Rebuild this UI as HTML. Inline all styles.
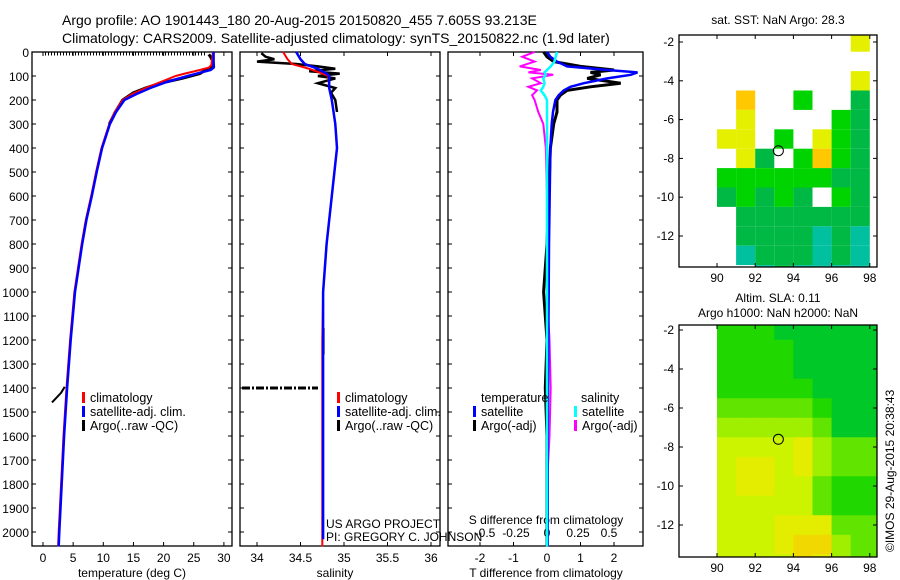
<!DOCTYPE html>
<html><head><meta charset="utf-8"><style>
body{margin:0;background:#fff}
svg{display:block;font-family:"Liberation Sans",sans-serif}
text{font-size:12px;fill:#000}
</style></head><body>
<svg id="c" width="900" height="580" viewBox="0 0 900 580"></svg>
<script>
// ---- data ----
const depthT=[0,20,40,55,65,75,90,100,125,150,175,200,250,300,400,500,600,700,800,900,1000,1200,1400,1600,1800,2000,2060];
const tClim=[28.2,28.1,28.0,27.9,27.5,26.0,23.5,22.0,19.5,17.0,14.8,13.2,11.9,11.0,9.7,8.8,8.0,7.1,6.4,5.8,5.2,4.5,3.9,3.4,3.0,2.6,2.5];
const tSat=[28.3,28.3,28.3,28.3,28.3,27.8,25.5,24.0,20.5,17.8,15.5,13.5,12.1,11.1,9.8,8.9,8.1,7.2,6.5,5.9,5.3,4.6,4.0,3.5,3.1,2.7,2.6];
const depthArgo=[10,20,40,60,75,90,110,130,150,170,200,250,300];
const tArgo=[27.5,27.8,28.2,28.3,27.0,26.0,23.0,19.5,17.0,15.0,13.2,12.0,11.0];
const depthS=[0,30,50,70,90,100,150,200,300,400,500,600,800,1000,1200,1400,1600,1800,2000,2060];
const sClim=[34.30,34.35,34.40,34.6,34.75,34.82,34.83,34.86,34.90,34.92,34.89,34.86,34.80,34.76,34.75,34.75,34.75,34.75,34.75,34.75];
const sSat=[34.45,34.5,34.55,34.7,34.8,34.83,34.83,34.86,34.90,34.92,34.89,34.86,34.80,34.76,34.76,34.76,34.76,34.76,34.76,34.76];
const depthSA=[5,20,30,40,50,60,70,80,90,100,110,120,130,150,170,200,250];
const sArgo=[34.05,34.1,34.2,34.0,34.45,34.7,34.9,34.6,34.95,34.7,34.9,34.8,34.7,34.9,34.85,34.9,34.92];
const depthD=[0,20,40,60,75,85,95,110,130,145,160,180,200,250,300,400,600,800,1000,1200,1400,1600,1800,2000,2060];
const dTsat=[0.0,0.1,0.3,0.6,1.8,2.7,2.5,1.8,1.1,0.7,0.5,0.35,0.25,0.18,0.14,0.1,0.08,0.06,0.05,0.04,0.03,0.02,0.02,0.02,0.02];
const dTargo=[-0.1,0.0,0.2,1.0,2.0,1.3,1.6,1.2,2.2,1.3,0.6,0.4,0.3,0.3,0.2,0.1,0.05,0.0,-0.1,0.0,-0.05,0.0,0.0,0.0,0.0];
const dSsat=[0.08,0.07,0.06,0.03,0.0,-0.02,-0.01,-0.03,-0.02,-0.03,-0.05,-0.02,0.0,0.0,0.0,0.0,0.0,0.0,0.0,0.0,0.0,0.0,0.0,0.0,0.0];
const dSargo=[-0.1,-0.2,-0.1,-0.22,-0.05,-0.15,0.05,-0.12,-0.05,-0.15,-0.08,-0.12,-0.1,-0.07,-0.03,-0.01,0.0,0.0,0.0,0.02,0.03,0.02,0.0,0.0,0.0];
const depthTicks=[0,100,200,300,400,500,600,700,800,900,1000,1100,1200,1300,1400,1500,1600,1700,1800,1900,2000];
const tTicks=[0,5,10,15,20,25,30];
const sTicks=["34","34.5","35","35.5","36"];
const dTTicks=[-2,-1,0,1,2];
const dSTicks=["-0.5","-0.25","0","0.25","0.5"];
const lonTicks=[90,92,94,96,98];
const latTicks=[-2,-4,-6,-8,-10,-12];
const sstRows=[".........y","..........",".........y","...o..G..g","...y....Gg","..yy.G.yGg","...yg.GoGg","..GGGGGGgg","..gGgGg.Gg","...ggggggg","...ggggcgc","...cgggcgc","....cgcccc"];
const slaRows=["11100000","11110000","11110000","11111000","22222100","33333200","44445322","45545322","45544211","44444211","44455522","44456632","44446532"];

const S=document.getElementById('c');const NS='http://www.w3.org/2000/svg';
function el(t,a,p){const e=document.createElementNS(NS,t);for(const k in a)e.setAttribute(k,a[k]);(p||S).appendChild(e);return e;}
function txt(x,y,s,anchor,name,extra){const e=el('text',Object.assign({x:x,y:y,'text-anchor':anchor||'start'},extra||{}));e.textContent=s;

return e;}
const Y=d=>52+d*0.24;
const xT=v=>43+v*6.03, xS=v=>257+(v-34)*87, xDT=v=>547+v*33.5, xDS=v=>547+v*124;
function line(xs,ds,fx,col,w,name){const pts=xs.map((v,i)=>fx(v).toFixed(1)+','+Y(ds[i]).toFixed(1)).join(' ');
const p=el('polyline',{points:pts,fill:'none',stroke:col,'stroke-width':w});

}
function frame(x0,x1,name){const r=el('rect',{x:x0,y:52,width:x1-x0,height:494,fill:'none',stroke:'#000','stroke-width':1.3});


depthTicks.forEach(d=>{el('line',{x1:x0,x2:x0+4,y1:Y(d),y2:Y(d),stroke:'#000'});el('line',{x1:x1-4,x2:x1,y1:Y(d),y2:Y(d),stroke:'#000'});});}
// titles
txt(62,25,"Argo profile: AO 1901443_180 20-Aug-2015 20150820_455 7.605S 93.213E","start","title-line-1",{style:"font-size:14px"});
txt(62,43,"Climatology: CARS2009. Satellite-adjusted climatology: synTS_20150822.nc (1.9d later)","start","title-line-2",{style:"font-size:14px"});
// panel 1
frame(32,232,"temperature-panel");
depthTicks.forEach(d=>txt(29,Y(d)+5,String(d),"end","depth-tick-label"));
tTicks.forEach(v=>{txt(xT(v),562,String(v),"middle","temp-tick-label");el('line',{x1:xT(v),x2:xT(v),y1:546,y2:542,stroke:'#000'});el('line',{x1:xT(v),x2:xT(v),y1:52,y2:56,stroke:'#000'});});
txt(132,577,"temperature (deg C)","middle","temperature-axis-title");
el('line',{x1:45,x2:207,y1:54,y2:54,stroke:'#000','stroke-dasharray':'1 2','stroke-width':3});
line(tArgo,depthArgo,xT,'#000',3,'temp-argo-line');
line([1.5,3.0,3.6],[1460,1420,1395],xT,'#000',2,'temp-argo-deep');
line(tClim,depthT,xT,'#f00',2,'temp-climatology-line');
line(tSat,depthT,xT,'#00f',2.5,'temp-satellite-line');
// panel 2
frame(240,440,"salinity-panel");
sTicks.forEach(v=>{txt(xS(+v),562,v,"middle","salinity-tick-label");el('line',{x1:xS(+v),x2:xS(+v),y1:546,y2:542,stroke:'#000'});el('line',{x1:xS(+v),x2:xS(+v),y1:52,y2:56,stroke:'#000'});});
txt(335,577,"salinity","middle","salinity-axis-title");
line(sArgo,depthSA,xS,'#000',2.5,'sal-argo-line');
el('line',{x1:242,x2:318,y1:Y(1400),y2:Y(1400),stroke:'#000','stroke-width':3,'stroke-dasharray':'8 2 2 2'});
line([34.76,34.76],[1150,1260],xS,'#000',3,'sal-argo-deep');
line(sClim,depthS,xS,'#f00',2,'sal-climatology-line');
line(sSat,depthS.slice(0,19).concat([2030]),xS,'#00f',2.5,'sal-satellite-line');
txt(326,528,"US ARGO PROJECT","start","project-label");
txt(326,541,"PI: GREGORY C. JOHNSON","start","pi-label");
// panel 3
frame(448,643,"difference-panel");
dTTicks.forEach(v=>{txt(xDT(v),562,String(v),"middle","tdiff-tick-label");el('line',{x1:xDT(v),x2:xDT(v),y1:546,y2:542,stroke:'#000'});el('line',{x1:xDT(v),x2:xDT(v),y1:52,y2:56,stroke:'#000'});});
dSTicks.forEach(v=>txt(xDS(+v),537,v,"middle","sdiff-tick-label"));
txt(546,524,"S difference from climatology","middle","sdiff-axis-title");
txt(546,577,"T difference from climatology","middle","tdiff-axis-title");
line(dSargo,depthD,xDS,'#f0f',2,'sdiff-argo-line');
line(dTargo,depthD,xDT,'#000',3,'tdiff-argo-line');
line(dTsat,depthD,xDT,'#00f',2.5,'tdiff-satellite-line');
line(dSsat,depthD,xDS,'#0ff',2.5,'sdiff-satellite-line');
// legends
function leg(x,y,col,s,name){el('rect',{x:x,y:y-10,width:3,height:11,fill:col});txt(x+8,y,s,"start",name,{style:"font-size:12.5px"});}
leg(82,402,'#f00','climatology','legend-climatology');leg(82,416,'#00f','satellite-adj. clim.','legend-satellite');leg(82,430,'#000','Argo(..raw -QC)','legend-argo');
leg(337,402,'#f00','climatology','legend2-climatology');leg(337,416,'#00f','satellite-adj. clim.','legend2-satellite');leg(337,430,'#000','Argo(..raw -QC)','legend2-argo');
txt(481,402,"temperature","start","legend-temperature-heading",{style:"font-size:12.5px"});txt(581,402,"salinity","start","legend-salinity-heading",{style:"font-size:12.5px"});
leg(473,416,'#00f','satellite','legend-tsat');leg(473,430,'#000','Argo(-adj)','legend-targo');
leg(574,416,'#0ff','satellite','legend-ssat');leg(574,430,'#f0f','Argo(-adj)','legend-sargo');
// maps
const mx=l=>717+(l-90)*19.1;
function mapAxes(y0,y1,ly,name){const r=el('rect',{x:679,y:y0,width:198,height:y1-y0,fill:'none',stroke:'#000','stroke-width':1.3});


lonTicks.forEach(l=>{txt(mx(l),y1+15,String(l),"middle","lon-tick-label");el('line',{x1:mx(l),x2:mx(l),y1:y0,y2:y0+4,stroke:'#000'});el('line',{x1:mx(l),x2:mx(l),y1:y1,y2:y1-4,stroke:'#000'});});
latTicks.forEach(a=>{const y=ly(a);txt(674,y+4,String(a),"end","lat-tick-label");el('line',{x1:679,x2:683,y1:y,y2:y,stroke:'#000'});el('line',{x1:873,x2:877,y1:y,y2:y,stroke:'#000'});});}
const ly1=a=>42+(-2-a)*19.4;
const sstCol={y:'#e4f000',o:'#ffc800',G:'#00d400',g:'#00b844',c:'#00c0a0'};
sstRows.forEach((row,i)=>{for(let j=0;j<row.length;j++){const ch=row[j];if(ch==='.')continue;
const lat=-1.5-i,lon=88+j;const x0=Math.max(679,mx(lon)),x1=Math.min(877,mx(lon+1));const ya=Math.max(35,ly1(lat)),yb=Math.min(267,ly1(lat-1));
const c=el('rect',{x:x0,y:ya,width:x1-x0,height:yb-ya,fill:sstCol[ch]});

}});
el('rect',{x:679,y:35,width:198,height:232,fill:'none',stroke:'#000'});
mapAxes(35,267,ly1,"sst-map");
el('circle',{cx:mx(93.213),cy:ly1(-7.605),r:5,fill:'none',stroke:'#000'});
txt(778,24,"sat. SST: NaN Argo: 28.3","middle","sst-map-title");
const ly2=a=>330+(-2-a)*19.5;
const slaPal=['#00c828','#20d800','#60e400','#a0ee00','#ccf400','#e4ec00','#f0d800'];
slaRows.forEach((row,i)=>{for(let j=0;j<row.length;j++){const v=+row[j];const lat=-1.5-i,lon=90+j;
const x0=mx(lon),x1=j===row.length-1?877:mx(lon+1);const ya=Math.max(325,ly2(lat)),yb=Math.min(557,ly2(lat-1));
const c=el('rect',{x:x0,y:ya,width:x1-x0+0.5,height:yb-ya+0.5,fill:slaPal[v]});

}});
mapAxes(325,557,ly2,"sla-map");
el('circle',{cx:mx(93.213),cy:ly2(-7.605),r:5,fill:'none',stroke:'#000'});
txt(778,302,"Altim. SLA: 0.11","middle","sla-map-title");
txt(778,317,"Argo h1000: NaN h2000: NaN","middle","height-title");
txt(0,0,"©IMOS 29-Aug-2015 20:38:43","start","imos-credit",{transform:"translate(894,552) rotate(-90)"});
</script>
</body></html>
